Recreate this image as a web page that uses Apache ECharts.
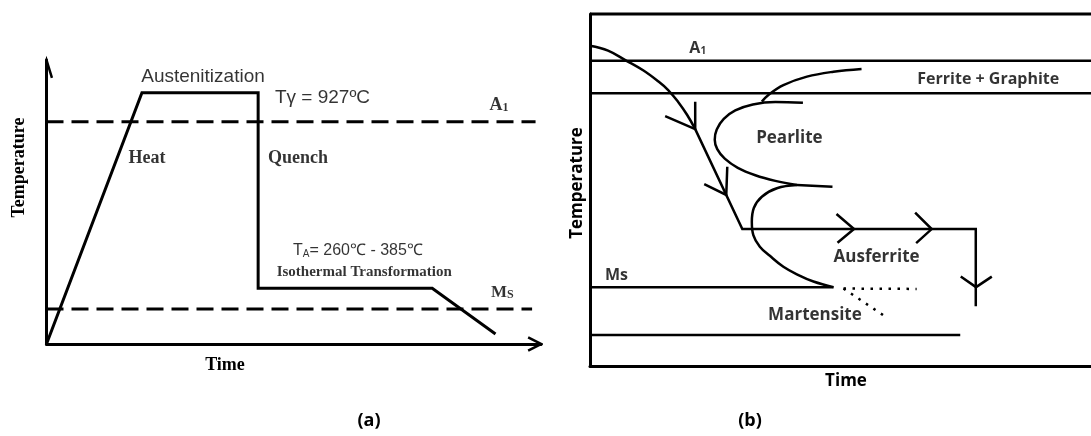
<!DOCTYPE html>
<html><head><meta charset="utf-8">
<script src="https://cdn.jsdelivr.net/npm/echarts@6/dist/echarts.min.js"></script>
<style>html,body{margin:0;padding:0;background:#fff}#c{width:1091px;height:436px}</style>
</head><body><div id="c"></div>
<script>
// ===== Panel (a): austempering schedule (time %, temperature %) =====
const schedulePath = [[0,0],[19.3,88.5],[42.8,88.5],[42.8,19.6],[78.0,19.6],[90.8,3.5]];
const a1LevelA = 78.3;
const msLevelA = 12.3;
const a1EndA = 98.9;
const msEndA = 98.2;
const yArrowA = [[-1.1,93.7],[0,100],[1.1,93.7]];
const xArrowA = [[97.4,2.3],[100,0],[97.4,-2.3]];

// ===== Panel (b): TTT diagram (time %, temperature %) =====
const coolCurve = [[0,91.0],[3.6,89.6],[7.3,86.7],[10.6,84.0],[13.4,81.1],[15.6,78.4],[17.6,75.0],[19.4,71.3],[21.0,67.3]];
const coolPath = [[21.0,67.3],[30.4,38.9],[77.0,38.9],[77.0,17.0]];
const ferriteStart = [[54.2,84.4],[48.6,83.6],[43.3,82.2],[38.6,79.8],[35.6,77.0],[34.3,75.1]];
const pearliteC = [[42.5,74.8],[37.0,75.0],[32.5,74.3],[29.0,72.6],[26.7,70.2],[25.3,67.2],[24.9,64.3],[25.4,61.6],[26.9,58.9],[29.5,56.3],[33.0,54.2],[37.0,52.6],[41.3,51.4]];
const pearliteNose = [[41.3,51.4],[48.4,50.9]];
const ausferriteC = [[41.3,51.4],[37.3,50.5],[34.3,48.1],[32.7,44.9],[32.3,40.9],[32.6,37.2],[33.9,33.9],[35.9,31.3],[38.6,28.2],[41.5,25.9],[44.6,24.0],[48.6,22.4]];
const msLineB = [[0,22.4],[48.6,22.4]];
const martDotsH = [[50.6,22.0],[65.2,21.9]];
const martDotsD = [[50.6,22.0],[59.2,13.8]];
const mfLine = [[0,8.8],[73.9,8.8]];
const a1LineB = [[0,86.7],[100,86.7]];
const ferriteLow = [[0,77.5],[100,77.5]];
const topFrame = [[0,100],[100,100]];
const arrowsB = [
  [[21.0,75.1],[21.0,67.3],[15.0,71.0]],
  [[27.4,56.6],[27.2,48.6],[22.8,51.7]],
  [[49.2,43.2],[52.7,38.9],[49.4,35.0]],
  [[64.9,43.6],[68.2,38.9],[65.1,34.9]],
  [[74.0,25.4],[77.05,22.4],[80.2,25.4]]
];

// ===== layout / style =====
const SERIF = '"Liberation Serif", "Times New Roman", serif';
const ARIAL = '"Liberation Sans", Arial, sans-serif';
const OPEN = '"Open Sans", "DejaVu Sans", sans-serif';
const INK = '#000';

function line(ai, data, width, extra) {
  return Object.assign({
    type: 'line', xAxisIndex: ai, yAxisIndex: ai, data: data,
    symbol: 'none', showSymbol: false, silent: true, clip: false,
    lineStyle: { color: INK, width: width, cap: 'butt', join: 'miter' },
    animation: false, z: 3
  }, extra || {});
}
function dashed(ai, data, width, type) {
  return line(ai, data, width, { lineStyle: { color: INK, width: width, type: type } });
}
function labels(ai, items) {
  return {
    type: 'scatter', xAxisIndex: ai, yAxisIndex: ai, symbolSize: 1, silent: true, clip: false,
    itemStyle: { color: 'rgba(0,0,0,0)' }, animation: false, z: 6,
    data: items.map(it => ({
      value: it.at,
      label: Object.assign({
        show: true, position: 'inside', formatter: it.text,
        align: it.align || 'center', verticalAlign: 'middle', color: INK
      }, it.font)
    }))
  };
}

const serifB = s => ({ fontFamily: SERIF, fontWeight: 'bold', fontSize: s });
const arial = s => ({ fontFamily: ARIAL, fontWeight: 'normal', fontSize: s });
const openB = s => ({ fontFamily: OPEN, fontWeight: 'bold', fontSize: s });

const labelsA = [
  { at: [31.65, 94.1], text: 'Austenitization', font: arial(19) },
  { at: [46.2, 86.6], text: 'Tγ = 927ºC', align: 'left', font: arial(19) },
  { at: [91.5, 84.2], text: '{a|A}{s|1}', font: Object.assign(serifB(18), { rich: {
      a: { fontFamily: SERIF, fontWeight: 'bold', fontSize: 18, color: INK, verticalAlign: 'bottom' },
      s: { fontFamily: SERIF, fontWeight: 'bold', fontSize: 12, color: INK, verticalAlign: 'bottom' } } }) },
  { at: [20.3, 65.5], text: 'Heat', font: serifB(18) },
  { at: [44.8, 65.5], text: 'Quench', align: 'left', font: serifB(18) },
  { at: [49.85, 32.8], text: '{t|T}{s|A}{t|= 260℃ - 385℃}', align: 'left', font: Object.assign(arial(16), { rich: {
      t: { fontFamily: ARIAL, fontSize: 16, color: INK, verticalAlign: 'bottom' },
      s: { fontFamily: ARIAL, fontSize: 10, color: INK, verticalAlign: 'bottom' } } }) },
  { at: [46.55, 25.35], text: 'Isothermal Transformation', align: 'left', font: serifB(15) },
  { at: [89.9, 18.0], text: '{m|M}{s|S}', align: 'left', font: Object.assign(serifB(17), { rich: {
      m: { fontFamily: SERIF, fontWeight: 'bold', fontSize: 17, color: INK, verticalAlign: 'bottom' },
      s: { fontFamily: SERIF, fontWeight: 'bold', fontSize: 12, color: INK, verticalAlign: 'bottom' } } }) }
];
const labelsB = [
  { at: [21.5, 90.3], text: '{a|A}{s|1}', font: Object.assign(openB(16), { rich: {
      a: { fontFamily: OPEN, fontWeight: 'bold', fontSize: 16, color: INK, verticalAlign: 'bottom' },
      s: { fontFamily: OPEN, fontWeight: 'bold', fontSize: 10, color: INK, verticalAlign: 'bottom' } } }) },
  { at: [79.5, 81.45], text: 'Ferrite + Graphite', font: openB(16) },
  { at: [39.8, 64.7], text: 'Pearlite', font: openB(17) },
  { at: [57.2, 30.9], text: 'Ausferrite', font: openB(17) },
  { at: [44.9, 14.5], text: 'Martensite', font: openB(17) },
  { at: [5.3, 25.85], text: 'Ms', font: openB(16) }
];

function axisPair(gi, lw) {
  return { gridIndex: gi, type: 'value', min: 0, max: 100,
    axisLine: { show: true, lineStyle: { color: INK, width: lw } },
    axisTick: { show: false }, axisLabel: { show: false }, splitLine: { show: false } };
}

const chart = echarts.init(document.getElementById('c'), null, { renderer: 'canvas' });
chart.setOption({
  backgroundColor: '#fff',
  animation: false,
  grid: [
    { left: 46.5, top: 60, width: 494.5, height: 284 },
    { left: 590, top: 14, width: 501, height: 352 }
  ],
  xAxis: [axisPair(0, 3), axisPair(1, 3)],
  yAxis: [axisPair(0, 3), axisPair(1, 3)],
  series: [
    line(0, schedulePath, 3),
    dashed(0, [[0, a1LevelA], [a1EndA, a1LevelA]], 3, [17, 8]),
    dashed(0, [[0, msLevelA], [msEndA, msLevelA]], 3, [17, 8]),
    line(0, yArrowA, 2.5),
    line(0, xArrowA, 2.5),
    labels(0, labelsA),

    line(1, topFrame, 3),
    line(1, a1LineB, 2.5),
    line(1, ferriteLow, 2.5),
    line(1, coolCurve, 2.5, { smooth: 0.4 }),
    line(1, coolPath, 2.5),
    line(1, ferriteStart, 2.5, { smooth: 0.4 }),
    line(1, pearliteC, 2.5, { smooth: 0.4 }),
    line(1, pearliteNose, 2.5),
    line(1, ausferriteC, 2.5, { smooth: 0.4 }),
    line(1, msLineB, 2.5),
    dashed(1, martDotsH, 2.5, [2.5, 6.5]),
    dashed(1, martDotsD, 2.5, [2.5, 6.5]),
    line(1, mfLine, 2.5)
  ].concat(arrowsB.map(a => line(1, a, 2.5))).concat([labels(1, labelsB)]),
  graphic: [
    { type: 'text', x: 19.6, y: 167.5, rotation: Math.PI / 2, silent: true,
      style: { text: 'Temperature', font: 'bold 18px ' + SERIF, fill: INK, align: 'center', verticalAlign: 'middle' } },
    { type: 'text', x: 225, y: 365, silent: true,
      style: { text: 'Time', font: 'bold 18px ' + SERIF, fill: INK, align: 'center', verticalAlign: 'middle' } },
    { type: 'text', x: 577, y: 183, rotation: Math.PI / 2, silent: true,
      style: { text: 'Temperature', font: 'bold 17px ' + OPEN, fill: INK, align: 'center', verticalAlign: 'middle' } },
    { type: 'text', x: 846, y: 381, silent: true,
      style: { text: 'Time', font: 'bold 17px ' + OPEN, fill: INK, align: 'center', verticalAlign: 'middle' } },
    { type: 'text', x: 369, y: 421, silent: true,
      style: { text: '(a)', font: 'bold 18px ' + OPEN, fill: INK, align: 'center', verticalAlign: 'middle' } },
    { type: 'text', x: 750, y: 421, silent: true,
      style: { text: '(b)', font: 'bold 18px ' + OPEN, fill: INK, align: 'center', verticalAlign: 'middle' } }
  ]
});
</script></body></html>
